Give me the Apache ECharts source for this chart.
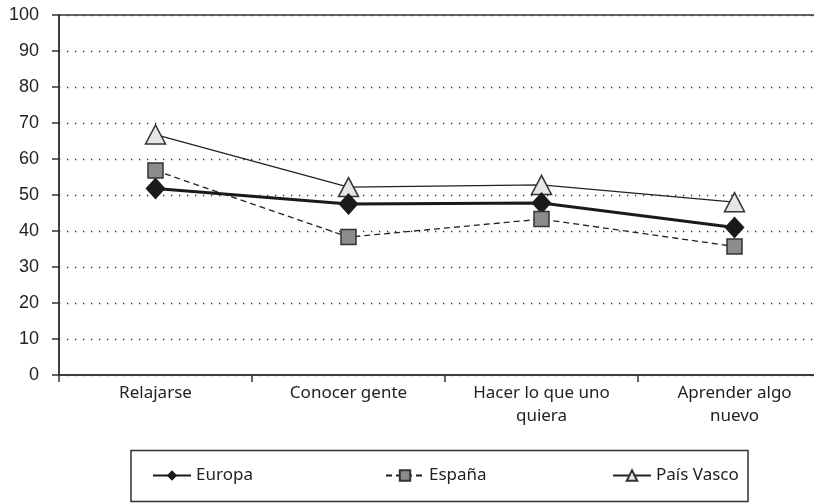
<!DOCTYPE html>
<html>
<head>
<meta charset="utf-8">
<script src="https://cdn.jsdelivr.net/npm/echarts@6/dist/echarts.min.js"></script>
<style>html,body{margin:0;padding:0;background:#fff}#c{width:814px;height:503px}</style>
</head>
<body>
<div id="c"></div>
<script>
const categories = ['Relajarse', 'Conocer gente', 'Hacer lo que uno\nquiera', 'Aprender algo\nnuevo'];
const seriesNames = ['Europa', 'España', 'País Vasco'];
const europa = [51.8, 47.5, 47.8, 41.0];
const espana = [56.8, 38.3, 43.3, 35.7];
const paisVasco = [66.8, 52.2, 52.8, 48.0];
const yTicks = { min: 0, max: 100, interval: 10 };

const chart = echarts.init(document.getElementById('c'), null, { renderer: 'canvas' });
const axisColor = '#333';
const legendText = { fontFamily: 'Noto Sans', fontSize: 17, color: '#222' };
function legend(name, left) {
  return {
    data: [name], left: left, top: 467, padding: 0, itemWidth: 38, itemHeight: 13,
    itemGap: 0, textStyle: legendText, selectedMode: false
  };
}
chart.setOption({
  animation: false,
  grid: { left: 59, width: 772, top: 15, height: 360, outerBoundsMode: 'none', containLabel: false, show: true, borderColor: axisColor, borderWidth: 1.5, backgroundColor: 'transparent' },
  xAxis: {
    type: 'category', data: categories, boundaryGap: true,
    axisLine: { lineStyle: { color: axisColor, width: 1.5 } },
    axisTick: { show: true, length: 7, alignWithLabel: false, lineStyle: { color: axisColor, width: 1.5 } },
    axisLabel: { margin: 7, fontFamily: 'Noto Sans', fontSize: 17, color: '#222', lineHeight: 23, interval: 0 },
    splitLine: { show: false }
  },
  yAxis: {
    type: 'value', min: yTicks.min, max: yTicks.max, interval: yTicks.interval,
    axisLine: { show: true, lineStyle: { color: axisColor, width: 1.5 } },
    axisTick: { show: true, length: 7, lineStyle: { color: axisColor, width: 1.5 } },
    axisLabel: { margin: 20, fontFamily: 'Liberation Sans', fontSize: 18, color: '#222' },
    splitLine: { show: true, lineStyle: { color: '#333', width: 1.3, type: [1.3, 6.7] } }
  },
  legend: [legend(seriesNames[0], 152), legend(seriesNames[1], 385), legend(seriesNames[2], 612)],
  graphic: [{
    type: 'rect', shape: { x: 131, y: 450.5, width: 617, height: 51 },
    style: { fill: 'none', stroke: axisColor, lineWidth: 1.5 }, z: 0
  }],
  series: [
    {
      name: seriesNames[2], type: 'line', data: paisVasco, symbol: 'triangle', symbolSize: [20, 19],
      lineStyle: { color: '#222', width: 1.3 },
      itemStyle: { color: '#e6e6e6', borderColor: '#333', borderWidth: 1.5 }, z: 2
    },
    {
      name: seriesNames[0], type: 'line', data: europa, symbol: 'diamond', symbolSize: [20, 22],
      lineStyle: { color: '#1a1a1a', width: 3 },
      itemStyle: { color: '#1a1a1a', borderColor: '#1a1a1a', borderWidth: 0 }, z: 3
    },
    {
      name: seriesNames[1], type: 'line', data: espana, symbol: 'rect', symbolSize: 15,
      lineStyle: { color: '#222', width: 1.3, type: [6, 4] },
      itemStyle: { color: '#8c8c8c', borderColor: '#333', borderWidth: 1.5 }, z: 4
    }
  ]
});
</script>
</body>
</html>
